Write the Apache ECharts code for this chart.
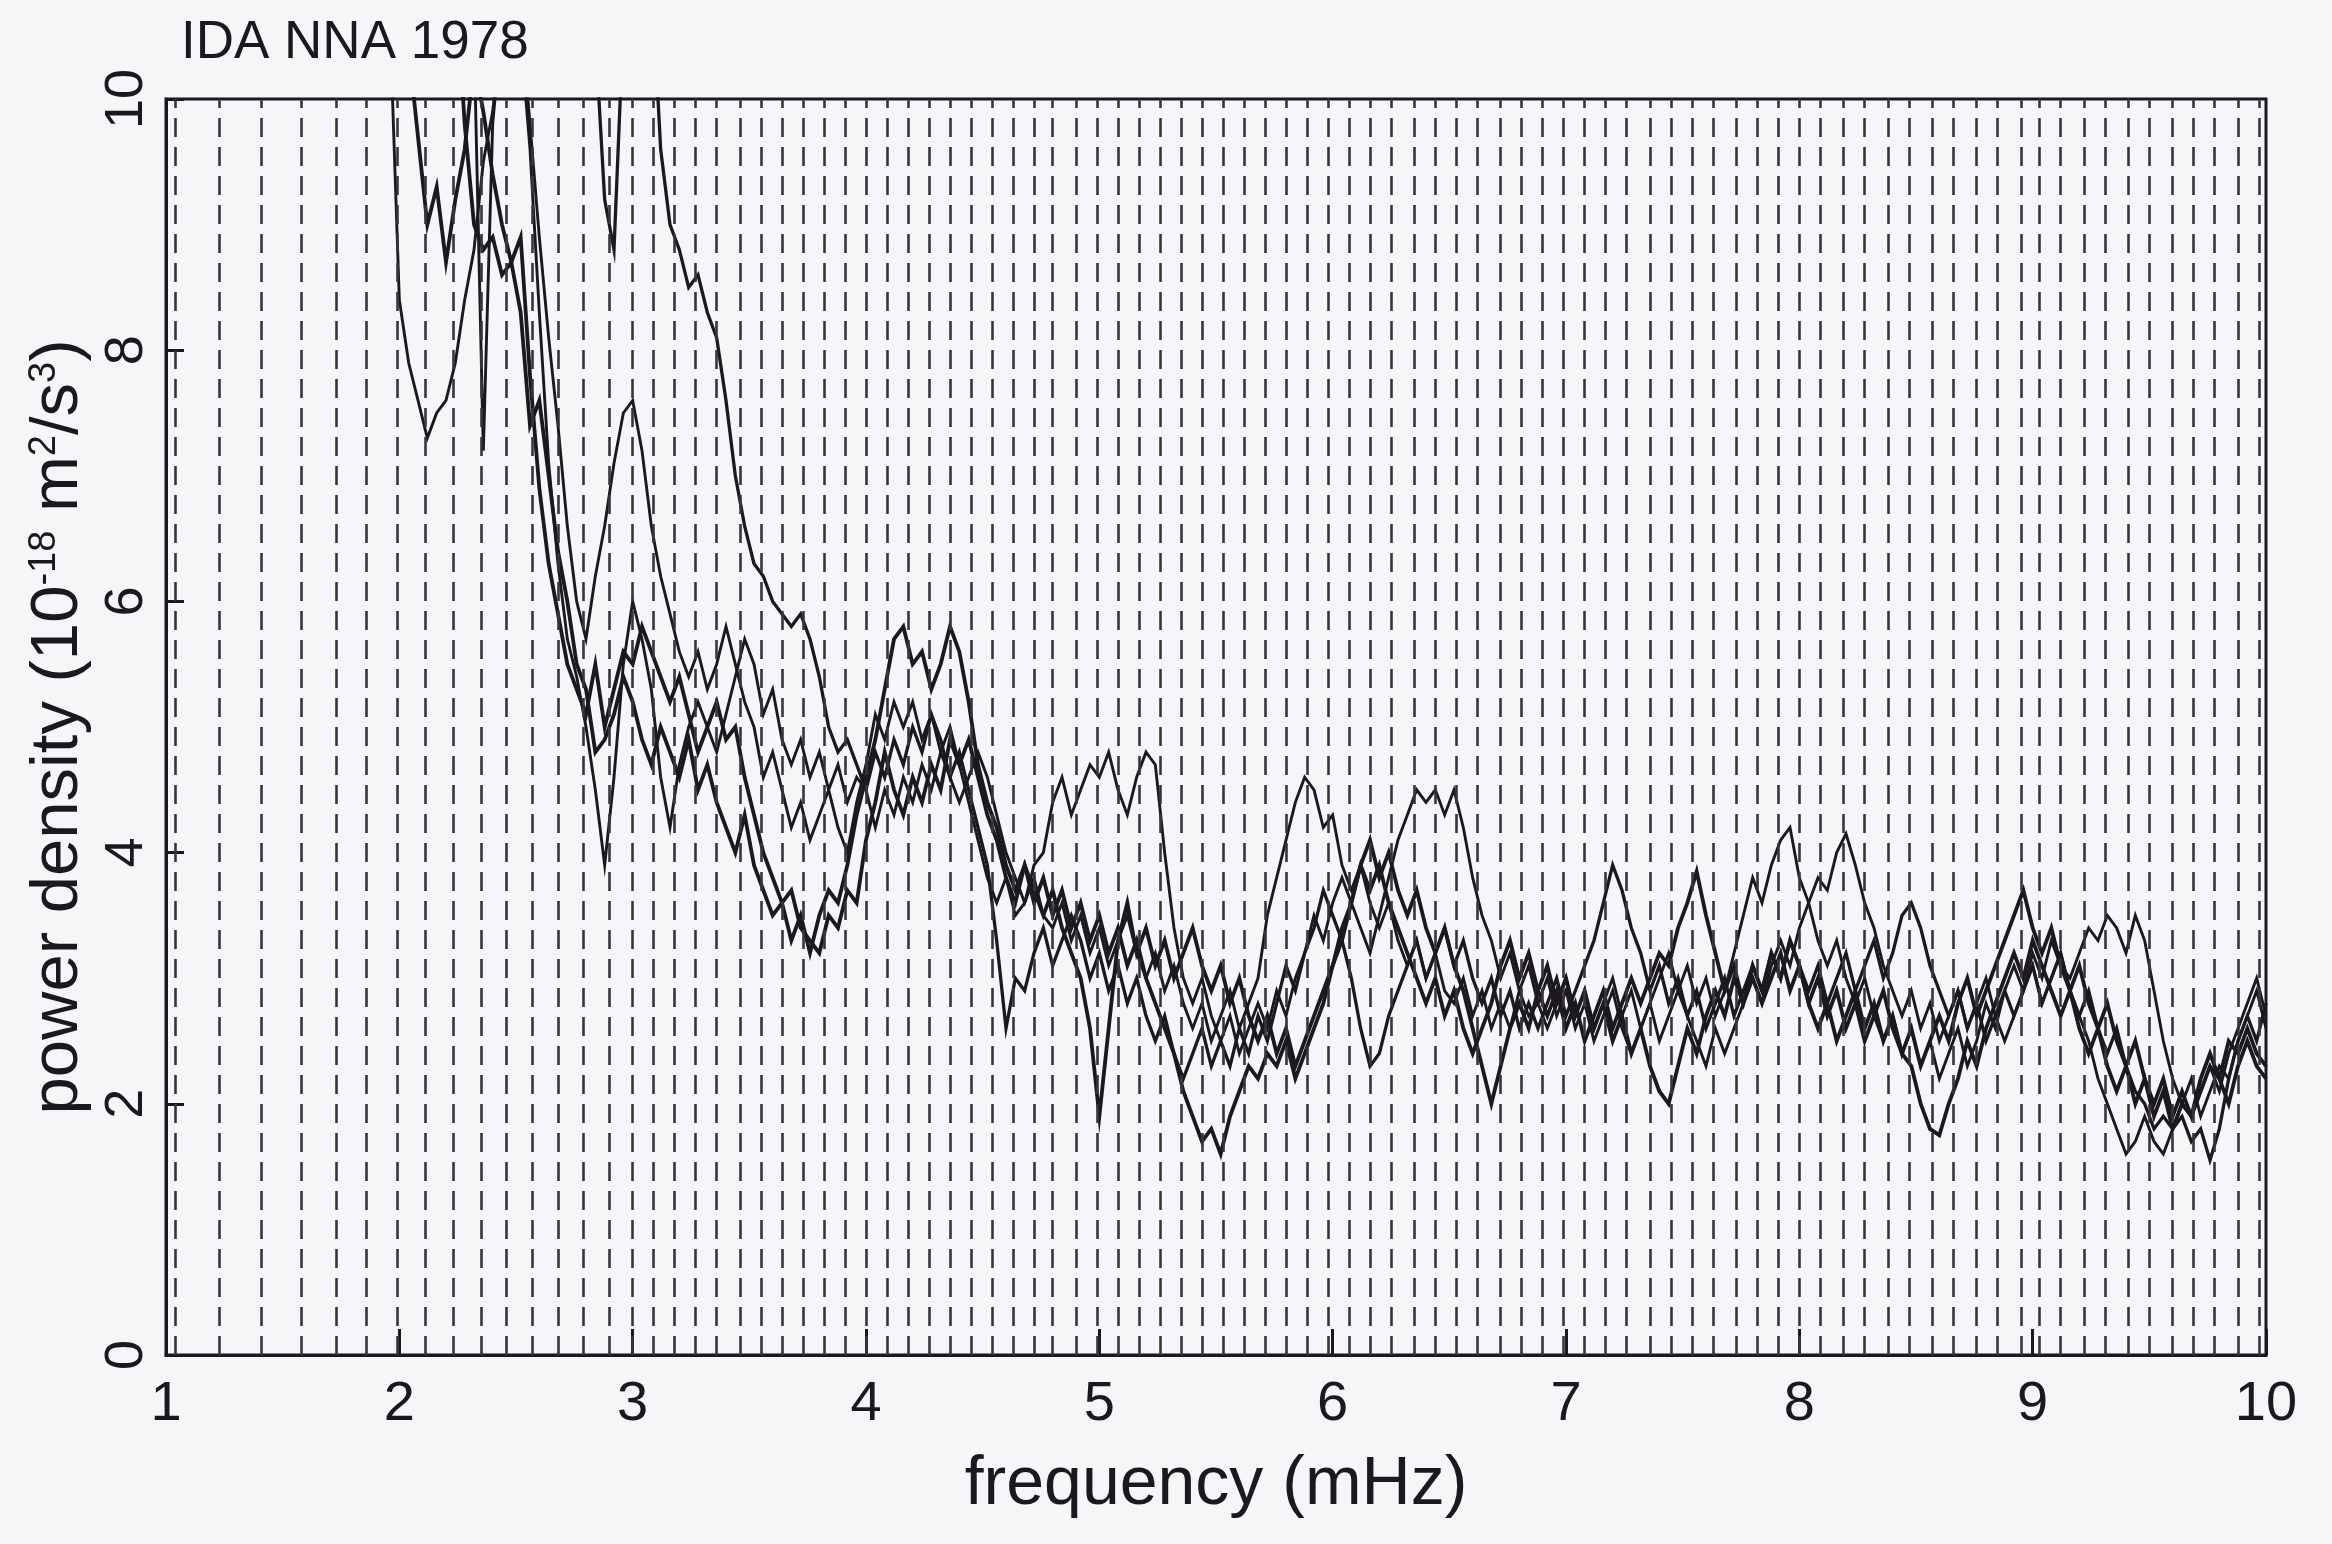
<!DOCTYPE html>
<html>
<head>
<meta charset="utf-8">
<title>IDA NNA 1978</title>
<script src="https://cdn.jsdelivr.net/npm/echarts@6/dist/echarts.min.js"></script>
<style>
  html, body { margin: 0; padding: 0; background: #f6f5f7; }
  #chart { width: 2332px; height: 1544px; }
</style>
</head>
<body>
<div id="chart"></div>
<script>
// frequency grid (mHz) shared by the five spectra
const freqs = [
  1.92, 1.96, 2.00, 2.04, 2.08, 2.12, 2.16, 2.20, 2.24, 2.28, 2.32, 2.36, 2.40, 2.44, 2.48, 2.52, 2.56, 2.60, 2.64, 2.68, 2.72, 2.76, 2.80, 2.84, 2.88,
  2.92, 2.96, 3.00, 3.04, 3.08, 3.12, 3.16, 3.20, 3.24, 3.28, 3.32, 3.36, 3.40, 3.44, 3.48, 3.52, 3.56, 3.60, 3.64, 3.68, 3.72, 3.76, 3.80, 3.84, 3.88,
  3.92, 3.96, 4.00, 4.04, 4.08, 4.12, 4.16, 4.20, 4.24, 4.28, 4.32, 4.36, 4.40, 4.44, 4.48, 4.52, 4.56, 4.60, 4.64, 4.68, 4.72, 4.76, 4.80, 4.84, 4.88,
  4.92, 4.96, 5.00, 5.04, 5.08, 5.12, 5.16, 5.20, 5.24, 5.28, 5.32, 5.36, 5.40, 5.44, 5.48, 5.52, 5.56, 5.60, 5.64, 5.68, 5.72, 5.76, 5.80, 5.84, 5.88,
  5.92, 5.96, 6.00, 6.04, 6.08, 6.12, 6.16, 6.20, 6.24, 6.28, 6.32, 6.36, 6.40, 6.44, 6.48, 6.52, 6.56, 6.60, 6.64, 6.68, 6.72, 6.76, 6.80, 6.84, 6.88,
  6.92, 6.96, 7.00, 7.04, 7.08, 7.12, 7.16, 7.20, 7.24, 7.28, 7.32, 7.36, 7.40, 7.44, 7.48, 7.52, 7.56, 7.60, 7.64, 7.68, 7.72, 7.76, 7.80, 7.84, 7.88,
  7.92, 7.96, 8.00, 8.04, 8.08, 8.12, 8.16, 8.20, 8.24, 8.28, 8.32, 8.36, 8.40, 8.44, 8.48, 8.52, 8.56, 8.60, 8.64, 8.68, 8.72, 8.76, 8.80, 8.84, 8.88,
  8.92, 8.96, 9.00, 9.04, 9.08, 9.12, 9.16, 9.20, 9.24, 9.28, 9.32, 9.36, 9.40, 9.44, 9.48, 9.52, 9.56, 9.60, 9.64, 9.68, 9.72, 9.76, 9.80, 9.84, 9.88,
  9.92, 9.96, 10.00
];

// power density (1e-18 m^2/s^3), values above 10 run off the top of the frame
const rec1 = [
  12, 10.6, 8.4, 7.9, 7.6, 7.3, 7.5, 7.6, 7.9, 8.4, 8.8, 9.5, 9.9, 10.6, 11, 10.5, 9.6, 8.3, 7.1, 6.3, 5.7, 5.4, 5.0, 4.5, 3.9,
  4.6, 5.5, 6.0, 5.7, 5.3, 4.6, 4.2, 4.7, 5.0, 5.2, 5.0, 4.8, 5.1, 5.4, 5.7, 5.5, 5.1, 5.3, 4.9, 4.7, 4.9, 4.6, 4.8, 4.5, 4.7,
  4.4, 4.6, 4.5, 4.2, 4.5, 4.3, 4.6, 4.4, 4.7, 4.5, 4.8, 4.6, 4.4, 4.6, 4.8, 4.6, 4.3, 4.0, 3.8, 3.6, 3.8, 3.5, 3.4, 3.6, 3.3,
  3.5, 3.2, 3.4, 3.1, 3.3, 3.5, 3.2, 3.0, 3.2, 2.9, 3.1, 2.8, 2.6, 2.8, 2.5, 2.7, 2.9, 2.6, 2.8, 3.0, 3.5, 3.8, 4.1, 4.4, 4.6,
  4.5, 4.2, 4.3, 3.9, 3.7, 3.9, 3.6, 3.4, 3.6, 3.3, 3.1, 3.3, 3.0, 3.2, 2.9, 2.8, 3.0, 2.7, 2.9, 2.6, 2.8, 2.6, 2.9, 2.7, 2.8,
  3.0, 2.7, 2.9, 2.6, 2.8, 2.5, 2.7, 2.9, 2.6, 2.4, 2.6, 2.8, 2.5, 2.7, 2.9, 3.1, 2.8, 3.0, 2.7, 2.9, 3.2, 3.5, 3.8, 3.6, 3.9,
  4.1, 4.2, 3.8, 3.6, 3.3, 3.1, 3.3, 3.0, 2.8, 3.0, 2.7, 2.5, 2.7, 2.4, 2.6, 2.3, 2.5, 2.2, 2.4, 2.6, 2.3, 2.5, 2.8, 2.6, 2.9,
  3.1, 2.9, 3.2, 3.0, 3.3, 3.1, 3.0, 3.2, 3.4, 3.3, 3.5, 3.4, 3.2, 3.5, 3.3, 2.9, 2.5, 2.2, 2.0, 2.2, 1.9, 2.1, 2.3, 2.2, 2.5,
  2.7, 2.9, 2.6
];
const rec2 = [
  12, 12, 11, 10.4, 9.7, 9.0, 9.3, 8.7, 9.2, 9.6, 10.3, 9.9, 9.4, 9.0, 8.7, 8.9, 7.8, 6.9, 6.3, 5.9, 5.5, 5.3, 5.1, 5.5, 5.0,
  5.3, 5.6, 5.5, 5.8, 5.6, 5.4, 5.2, 5.4, 5.1, 4.8, 5.0, 5.2, 4.9, 5.0, 4.6, 4.3, 4.0, 3.8, 3.6, 3.7, 3.4, 3.3, 3.2, 3.5, 3.4,
  3.7, 3.6, 4.1, 4.4, 4.8, 4.5, 4.3, 4.6, 4.4, 4.7, 4.5, 4.9, 4.7, 4.9, 4.6, 4.3, 4.1, 3.8, 3.6, 3.9, 3.7, 3.5, 3.7, 3.4, 3.2,
  3.0, 2.6, 1.9, 2.6, 3.3, 3.6, 3.2, 3.4, 3.1, 3.3, 3.0, 3.2, 3.4, 3.1, 2.9, 3.1, 2.8, 3.0, 2.7, 2.5, 2.7, 2.4, 2.6, 2.3, 2.5,
  2.7, 2.9, 3.1, 3.4, 3.6, 3.9, 4.1, 3.8, 4.0, 3.7, 3.5, 3.7, 3.4, 3.2, 3.4, 3.1, 2.9, 2.6, 2.3, 2.0, 2.3, 2.6, 2.8, 2.6, 2.9,
  3.1, 2.8, 3.0, 2.7, 2.9, 2.6, 2.8, 2.5, 2.7, 2.4, 2.6, 2.3, 2.1, 2.0, 2.3, 2.6, 2.4, 2.7, 2.9, 2.7, 3.0, 2.8, 3.1, 2.9, 3.2,
  3.0, 3.3, 3.1, 2.8, 3.0, 2.7, 2.9, 2.6, 2.8, 2.5, 2.7, 2.9, 2.6, 2.4, 2.3, 2.0, 1.8, 1.75, 2.0, 2.2, 2.5, 2.3, 2.6, 2.8, 3.0,
  3.2, 3.0, 3.3, 3.1, 2.9, 2.7, 2.9, 2.6, 2.4, 2.6, 2.3, 2.1, 2.3, 2.0, 2.2, 1.9, 2.1, 1.8, 2.0, 1.9, 2.1, 2.3, 2.2, 2.5, 2.4,
  2.6, 2.4, 2.3
];
const rec3 = [
  12, 12, 12, 12, 12, 12, 12, 12, 12, 12, 10.5, 7.2, 9.8, 10.6, 11, 10.7, 9.8, 8.9, 8.1, 7.4, 6.6, 6.0, 5.7, 6.2, 6.6,
  7.1, 7.5, 7.6, 7.2, 6.6, 6.2, 5.9, 5.6, 5.4, 5.6, 5.3, 5.5, 5.8, 5.5, 5.2, 5.0, 4.6, 4.8, 4.5, 4.2, 4.4, 4.1, 4.3, 4.5, 4.2,
  4.0, 4.4, 4.7, 5.1, 4.9, 5.2, 5.0, 5.2, 4.9, 5.1, 4.8, 5.0, 4.7, 4.4, 4.1, 3.8, 3.6, 3.8, 3.5, 3.6, 3.9, 4.0, 4.4, 4.6, 4.3,
  4.5, 4.7, 4.6, 4.8, 4.5, 4.3, 4.6, 4.8, 4.7, 4.0, 3.4, 3.0, 2.8, 3.0, 2.7, 2.5, 2.7, 2.4, 2.6, 2.8, 2.6, 2.9, 2.7, 3.0, 3.2,
  3.5, 3.3, 3.6, 3.8, 3.6, 3.4, 3.2, 3.5, 3.8, 4.1, 4.3, 4.5, 4.4, 4.5, 4.3, 4.5, 4.2, 3.8, 3.5, 3.3, 3.0, 3.2, 2.9, 3.1, 2.8,
  2.6, 2.8, 3.0, 2.7, 2.9, 2.6, 2.8, 3.0, 2.7, 2.9, 2.6, 2.8, 3.0, 3.2, 2.9, 2.7, 2.5, 2.3, 2.6, 2.4, 2.6, 2.8, 3.0, 2.8, 3.1,
  3.3, 3.1, 3.4, 3.6, 3.8, 3.7, 4.0, 4.15, 3.9, 3.6, 3.4, 3.1, 2.9, 2.7, 2.9, 2.6, 2.8, 2.5, 2.7, 2.9, 2.6, 2.8, 3.0, 2.7, 2.5,
  2.7, 2.9, 3.1, 2.8, 3.0, 3.2, 2.9, 2.7, 2.5, 2.2, 2.0, 1.8, 1.6, 1.7, 1.9, 1.7, 1.6, 1.8, 2.0, 1.9, 2.1, 2.3, 2.1, 2.4, 2.6,
  2.8, 3.0, 2.7
];
const rec4 = [
  12, 12, 12, 12, 12, 12, 12, 12, 12, 12, 12, 12, 12, 12, 12, 12, 12, 12, 12, 12, 12, 12, 12, 10.5, 9.2,
  8.8, 10.6, 12, 12, 11, 9.6, 9.0, 8.8, 8.5, 8.6, 8.3, 8.1, 7.6, 7.0, 6.6, 6.3, 6.2, 6.0, 5.9, 5.8, 5.9, 5.7, 5.4, 5.0, 4.8,
  4.9, 4.7, 4.5, 4.8, 4.6, 4.9, 4.7, 5.0, 4.8, 5.1, 4.9, 4.6, 4.8, 4.5, 4.2, 3.9, 3.3, 2.6, 3.0, 2.9, 3.2, 3.4, 3.1, 3.3, 3.5,
  3.3, 3.0, 3.2, 2.9, 3.1, 2.8, 3.0, 2.7, 2.5, 2.7, 2.4, 2.2, 2.4, 2.6, 2.3, 2.5, 2.3, 2.6, 2.4, 2.7, 2.5, 2.8, 3.1, 2.9, 3.2,
  3.4, 3.7, 3.5, 3.3, 3.0, 2.6, 2.3, 2.4, 2.7, 2.9, 3.1, 3.3, 3.0, 3.2, 3.4, 3.1, 3.3, 3.0, 2.8, 3.0, 2.7, 2.9, 2.6, 2.8, 2.6,
  2.8, 3.0, 2.7, 2.9, 3.1, 3.3, 3.6, 3.9, 3.7, 3.4, 3.2, 2.9, 3.1, 2.8, 3.0, 2.7, 2.9, 2.6, 2.8, 3.0, 2.7, 2.9, 3.1, 2.9, 3.2,
  3.0, 3.3, 3.1, 2.9, 3.1, 2.8, 3.0, 3.2, 2.9, 3.1, 3.3, 3.0, 3.2, 3.5, 3.6, 3.4, 3.1, 2.9, 2.7, 2.9, 2.6, 2.8, 2.5, 2.7, 2.9,
  2.7, 2.9, 3.1, 2.8, 3.0, 3.2, 2.9, 2.7, 2.9, 2.6, 2.4, 2.6, 2.3, 2.1, 2.0, 1.8, 1.9, 1.8, 1.9, 1.7, 1.8, 1.55, 1.8, 2.2, 2.5,
  2.7, 2.5, 2.8
];
const rec5 = [
  12, 12, 12, 12, 12, 12, 12, 12, 11, 9.8, 9.0, 8.8, 8.9, 8.6, 8.7, 8.3, 7.4, 7.6, 7.0, 6.4, 6.0, 5.5, 5.3, 4.8, 4.9,
  5.1, 5.4, 5.2, 4.9, 4.7, 5.0, 4.8, 4.6, 4.9, 4.5, 4.7, 4.4, 4.2, 4.0, 4.3, 3.9, 3.7, 3.5, 3.6, 3.3, 3.5, 3.2, 3.5, 3.7, 3.6,
  3.9, 4.3, 4.6, 4.9, 5.3, 5.7, 5.8, 5.5, 5.6, 5.3, 5.5, 5.8, 5.6, 5.2, 4.7, 4.4, 4.2, 3.9, 3.7, 3.9, 3.6, 3.8, 3.5, 3.7, 3.4,
  3.6, 3.3, 3.5, 3.2, 3.4, 3.1, 3.3, 3.0, 2.8, 2.6, 2.4, 2.1, 1.9, 1.7, 1.8, 1.6, 1.9, 2.1, 2.3, 2.2, 2.4, 2.3, 2.5, 2.2, 2.4,
  2.6, 2.8, 3.1, 3.3, 3.6, 3.9, 3.7, 3.9, 3.6, 3.4, 3.2, 3.0, 2.8, 3.0, 2.7, 2.9, 2.6, 2.4, 2.6, 2.8, 3.1, 3.3, 3.0, 3.2, 2.9,
  2.7, 2.9, 2.6, 2.8, 2.5, 2.7, 2.9, 2.6, 2.8, 3.0, 2.8, 3.0, 3.2, 3.1, 3.4, 3.6, 3.85, 3.5, 3.2, 2.9, 3.1, 2.8, 3.0, 2.8, 3.0,
  3.2, 2.9, 3.1, 2.8, 2.6, 2.8, 2.5, 2.7, 2.9, 2.6, 2.8, 2.5, 2.7, 2.4, 2.6, 2.3, 2.5, 2.7, 2.5, 2.8, 3.0, 2.7, 2.9, 3.1, 3.3,
  3.5, 3.7, 3.4, 3.2, 3.4, 3.1, 2.9, 3.1, 2.8, 2.6, 2.8, 2.5, 2.3, 2.5, 2.2, 2.0, 2.2, 1.9, 2.1, 1.9, 2.2, 2.4, 2.2, 2.0, 2.3,
  2.5, 2.3, 2.2
];

// dashed marker lines (mHz)
const modeFreqs = [
  1.04, 1.23, 1.41, 1.58, 1.73, 1.86, 1.99, 2.11, 2.23, 2.35, 2.46, 2.57, 2.68, 2.79, 2.90,
  3.00, 3.09, 3.18, 3.27, 3.36, 3.46, 3.55, 3.64, 3.73, 3.82, 3.91,
  4.00, 4.09, 4.18, 4.27, 4.36, 4.45, 4.54, 4.63, 4.72, 4.80, 4.90, 4.99,
  5.08, 5.17, 5.26, 5.35, 5.44, 5.53, 5.62, 5.71, 5.80, 5.89, 5.98,
  6.07, 6.16, 6.25, 6.35, 6.44, 6.53, 6.62, 6.72, 6.81, 6.90, 6.99,
  7.08, 7.17, 7.26, 7.36, 7.45, 7.54, 7.63, 7.73, 7.82, 7.91,
  8.00, 8.09, 8.19, 8.28, 8.38, 8.47, 8.57, 8.66, 8.76, 8.85, 8.95,
  9.03, 9.12, 9.22, 9.31, 9.41, 9.50, 9.60, 9.69, 9.78, 9.88, 9.97
];

const records = [rec1, rec2, rec3, rec4, rec5];
const widths = [2.9, 3.8, 2.9, 3.3, 3.8];

const font = '"Liberation Sans", Arial, sans-serif';
const ink = '#1b191d';

const chart = echarts.init(document.getElementById('chart'));

const curveSeries = records.map((rec, k) => ({
  name: 'rec' + (k + 1),
  type: 'line',
  data: freqs.map((f, i) => [f, rec[i]]),
  showSymbol: false,
  clip: true,
  z: 3,
  lineStyle: { color: ink, width: widths[k], join: 'miter' },
  emphasis: { disabled: true },
}));

const option = {
  backgroundColor: '#f6f5f7',
  animation: false,
  title: {
    text: 'IDA NNA 1978',
    left: 176,
    top: 12,
    textStyle: { fontFamily: font, fontSize: 53, fontWeight: 'normal', color: ink },
  },
  grid: {
    left: 166,
    right: 66,
    top: 99,
    bottom: 189,
    show: true,
    borderColor: ink,
    borderWidth: 3,
  },
  xAxis: {
    type: 'value',
    min: 1,
    max: 10,
    interval: 1,
    name: 'frequency (mHz)',
    nameLocation: 'middle',
    nameGap: 96,
    nameTextStyle: { fontFamily: font, fontSize: 68, color: ink },
    axisLine: { onZero: false, lineStyle: { color: ink, width: 3 } },
    axisTick: { inside: true, length: 26, lineStyle: { color: ink, width: 3 } },
    axisLabel: { fontFamily: font, fontSize: 56, color: ink, margin: 22 },
    splitLine: { show: false },
  },
  yAxis: {
    type: 'value',
    min: 0,
    max: 10,
    interval: 2,
    name: 'power density (10{sup|-18} m{sup|2}/s{sup|3})',
    nameLocation: 'middle',
    nameRotate: 90,
    nameGap: 58,
    nameTextStyle: {
      fontFamily: font,
      fontSize: 67,
      color: ink,
      rich: {
        sup: { fontFamily: font, fontSize: 38, color: ink, verticalAlign: 'top', lineHeight: 30 },
      },
    },
    axisLine: { lineStyle: { color: ink, width: 3 } },
    axisTick: { inside: true, length: 18, lineStyle: { color: ink, width: 3 } },
    axisLabel: { fontFamily: font, fontSize: 54, color: ink, rotate: 90, margin: 12 },
    splitLine: { show: false },
  },
  series: [
    {
      name: 'modes',
      type: 'line',
      data: [],
      z: 1,
      markLine: {
        silent: true,
        animation: false,
        symbol: ['none', 'none'],
        label: { show: false },
        lineStyle: { type: [19, 10], color: '#3b3440', width: 2.6 },
        emphasis: { disabled: true },
        data: modeFreqs.map((f) => ({ xAxis: f })),
      },
    },
    ...curveSeries,
  ],
};

option && chart.setOption(option);
</script>
</body>
</html>
